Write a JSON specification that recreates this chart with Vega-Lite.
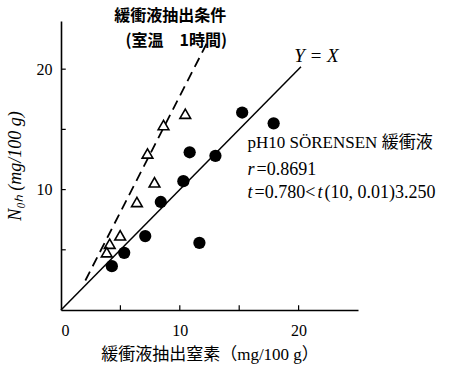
{
  "$schema": "https://vega.github.io/schema/vega-lite/v6.json",
  "autosize": {"type": "none"},
  "padding": {"left": 61, "top": 21, "right": 97, "bottom": 55},
  "width": 297,
  "height": 289,
  "background": "white",
  "config": {
    "view": {"stroke": null},
    "font": "Liberation Serif, Noto Sans CJK JP",
    "axis": {"grid": false, "ticks": false, "domainColor": "black", "domainWidth": 1.6, "labelColor": "black", "titleColor": "black", "labelFont": "Liberation Serif", "labelFontSize": 16, "titleFontWeight": "normal"}
  },
  "datasets": {
    "circles": [
      {"x": 15.25, "y": 16.4},
      {"x": 17.9, "y": 15.5},
      {"x": 10.83, "y": 13.1},
      {"x": 13.0, "y": 12.8},
      {"x": 10.3, "y": 10.7},
      {"x": 8.4, "y": 8.97},
      {"x": 11.65, "y": 5.58},
      {"x": 7.09, "y": 6.14},
      {"x": 5.32, "y": 4.75},
      {"x": 4.28, "y": 3.64}
    ],
    "triangles": [
      {"x": 10.46, "y": 16.3},
      {"x": 8.63, "y": 15.36},
      {"x": 7.28, "y": 13.0},
      {"x": 7.87, "y": 10.6},
      {"x": 6.39, "y": 8.97},
      {"x": 4.98, "y": 6.2},
      {"x": 4.1, "y": 5.5},
      {"x": 3.85, "y": 4.8}
    ],
    "identity": [{"x": 0, "y": 0}, {"x": 20.2, "y": 20.2}],
    "dashed": [{"x": 2.05, "y": 2.45}, {"x": 12.3, "y": 22.2}],
    "ticks": [{"v": 5}, {"v": 10}, {"v": 15}, {"v": 20}],
    "one": [{}]
  },
  "layer": [
    {
      "data": {"name": "identity"},
      "mark": {"type": "line", "color": "black", "strokeWidth": 1.5},
      "encoding": {
        "x": {"field": "x", "type": "quantitative", "scale": {"domain": [0, 25], "nice": false},
          "axis": {"values": [0, 10, 20], "labelPadding": 12, "title": "緩衝液抽出窒素（mg/100 g）", "titleFont": "Liberation Serif, Noto Sans CJK JP", "titleFontSize": 17, "titlePadding": 8}},
        "y": {"field": "y", "type": "quantitative", "scale": {"domain": [0, 24], "nice": false},
          "axis": {"values": [10, 20], "labelPadding": 9, "title": "N₀ₕ (mg/100 g)", "titleFont": "Liberation Serif", "titleFontStyle": "italic", "titleFontSize": 18, "titlePadding": 12}}
      }
    },
    {
      "data": {"name": "ticks"},
      "mark": {"type": "rule", "color": "black", "strokeWidth": 1.2},
      "encoding": {
        "x": {"field": "v", "type": "quantitative"},
        "y": {"datum": 0},
        "y2": {"datum": 0.4}
      }
    },
    {
      "data": {"name": "ticks"},
      "mark": {"type": "rule", "color": "black", "strokeWidth": 1.2},
      "encoding": {
        "y": {"field": "v", "type": "quantitative"},
        "x": {"datum": 0},
        "x2": {"datum": 0.4}
      }
    },
    {
      "data": {"name": "dashed"},
      "mark": {"type": "line", "color": "black", "strokeWidth": 1.8, "strokeDash": [10, 6]},
      "encoding": {
        "x": {"field": "x", "type": "quantitative"},
        "y": {"field": "y", "type": "quantitative"}
      }
    },
    {
      "data": {"name": "circles"},
      "mark": {"type": "point", "shape": "circle", "filled": true, "color": "black", "size": 150, "opacity": 1},
      "encoding": {
        "x": {"field": "x", "type": "quantitative"},
        "y": {"field": "y", "type": "quantitative"}
      }
    },
    {
      "data": {"name": "triangles"},
      "mark": {"type": "point", "shape": "triangle-up", "filled": true, "fill": "white", "stroke": "black", "strokeWidth": 1.6, "size": 115, "opacity": 1},
      "encoding": {
        "x": {"field": "x", "type": "quantitative"},
        "y": {"field": "y", "type": "quantitative"}
      }
    },
    {
      "data": {"name": "one"},
      "mark": {"type": "text", "font": "Noto Sans CJK JP", "fontSize": 16, "fontWeight": "bold", "color": "black"},
      "encoding": {"x": {"datum": 9.2}, "y": {"datum": 24.45}, "text": {"value": "緩衝液抽出条件"}}
    },
    {
      "data": {"name": "one"},
      "mark": {"type": "text", "font": "Noto Sans CJK JP", "fontSize": 16, "fontWeight": "bold", "color": "black"},
      "encoding": {"x": {"datum": 9.7}, "y": {"datum": 22.35}, "text": {"value": "(室温　1時間)"}}
    },
    {
      "data": {"name": "one"},
      "mark": {"type": "text", "font": "Liberation Serif", "fontStyle": "italic", "fontSize": 19, "color": "black"},
      "encoding": {"x": {"datum": 21.5}, "y": {"datum": 21.1}, "text": {"value": "Y = X"}}
    },
    {
      "data": {"name": "one"},
      "mark": {"type": "text", "font": "Liberation Serif, Noto Sans CJK JP", "fontSize": 17, "align": "left", "color": "black"},
      "encoding": {"x": {"datum": 15.7}, "y": {"datum": 13.9}, "text": {"value": "pH10 SÖRENSEN 緩衝液"}}
    },
    {
      "data": {"name": "one"},
      "mark": {"type": "text", "font": "Liberation Serif", "fontStyle": "italic", "fontSize": 18, "align": "left", "color": "black"},
      "encoding": {"x": {"datum": 15.7}, "y": {"datum": 11.65}, "text": {"value": "r"}}
    },
    {
      "data": {"name": "one"},
      "mark": {"type": "text", "font": "Liberation Serif", "fontSize": 18, "align": "left", "dx": 9, "color": "black"},
      "encoding": {"x": {"datum": 15.7}, "y": {"datum": 11.65}, "text": {"value": "=0.8691"}}
    },
    {
      "data": {"name": "one"},
      "mark": {"type": "text", "font": "Liberation Serif", "fontStyle": "italic", "fontSize": 18, "align": "left", "color": "black"},
      "encoding": {"x": {"datum": 15.7}, "y": {"datum": 9.75}, "text": {"value": "t"}}
    },
    {
      "data": {"name": "one"},
      "mark": {"type": "text", "font": "Liberation Serif", "fontSize": 18, "align": "left", "dx": 7, "color": "black"},
      "encoding": {"x": {"datum": 15.7}, "y": {"datum": 9.75}, "text": {"value": "=0.780<"}}
    },
    {
      "data": {"name": "one"},
      "mark": {"type": "text", "font": "Liberation Serif", "fontStyle": "italic", "fontSize": 18, "align": "left", "dx": 70, "color": "black"},
      "encoding": {"x": {"datum": 15.7}, "y": {"datum": 9.75}, "text": {"value": "t"}}
    },
    {
      "data": {"name": "one"},
      "mark": {"type": "text", "font": "Liberation Serif", "fontSize": 18, "align": "left", "dx": 77, "color": "black"},
      "encoding": {"x": {"datum": 15.7}, "y": {"datum": 9.75}, "text": {"value": "(10, 0.01)3.250"}}
    }
  ]
}
